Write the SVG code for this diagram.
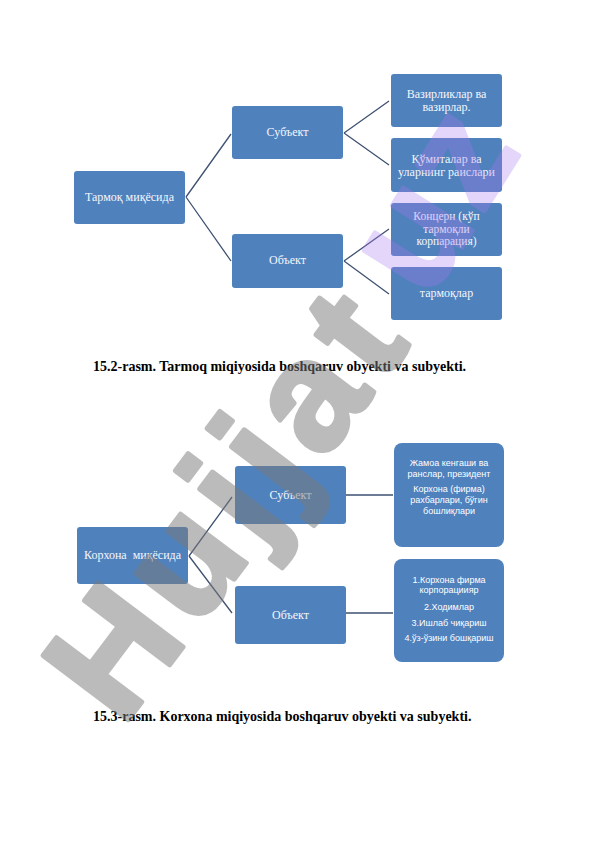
<svg xmlns="http://www.w3.org/2000/svg" width="596" height="842" viewBox="0 0 596 842">
<style>
.box{fill:#4f81bd}
.t{font-family:"Liberation Serif","Times New Roman",serif;font-size:12px;fill:#f4f7fc;text-anchor:middle}
.t2{font-family:"Liberation Serif","Times New Roman",serif;font-size:11.5px;fill:#f4f7fc;text-anchor:middle}
.s{font-family:"Liberation Sans",Arial,sans-serif;font-size:9px;fill:#ffffff;text-anchor:middle}
.cap{font-family:"Liberation Serif","Times New Roman",serif;font-size:14px;font-weight:bold;fill:#000}
.ln{stroke:#3e5272;stroke-width:1.3;fill:none}
.wm{font-family:"Liberation Sans",Arial,sans-serif;font-weight:bold;font-size:155px}
</style>
<rect width="596" height="842" fill="#ffffff"/>

<g id="connectors1">
<path class="ln" d="M186,197 L231,134 M186,197 L231,261 M344,133 L389,101 M344,133 L389,165 M344,261 L389,229 M344,261 L389,294"/>
</g>
<g id="n-tarmoq"><rect class="box" x="74" y="171" width="111" height="53" rx="3"/><text class="t" x="129.5" y="201">Тармоқ миқёсида</text></g>
<g id="n-subyekt1"><rect class="box" x="232" y="106" width="111" height="53" rx="3"/><text class="t" x="287.5" y="136">Субъект</text></g>
<g id="n-obyekt1"><rect class="box" x="232" y="234" width="111" height="54" rx="3"/><text class="t" x="287.5" y="264">Объект</text></g>
<g id="n-vazir"><rect class="box" x="391" y="74" width="111" height="53" rx="3"/><text class="t" x="446.5" y="98">Вазирликлар ва</text><text class="t" x="446.5" y="111">вазирлар.</text></g>
<g id="n-qomita"><rect class="box" x="391" y="138" width="111" height="54" rx="3"/><text class="t" x="446.5" y="163">Қўмиталар ва</text><text class="t" x="446.5" y="176">уларнинг раислари</text></g>
<g id="n-konsern"><rect class="box" x="391" y="203" width="111" height="53" rx="3"/><text class="t2" x="446.5" y="220">Концерн (кўп</text><text class="t2" x="446.5" y="232.5">тармоқли</text><text class="t2" x="446.5" y="245">корпарация)</text></g>
<g id="n-tarmoqlar"><rect class="box" x="391" y="267" width="111" height="53" rx="3"/><text class="t" x="446.5" y="297">тармоқлар</text></g>

<text class="cap" x="93" y="371">15.2-rasm. Tarmoq miqiyosida boshqaruv obyekti va subyekti.</text>

<g id="connectors2">
<path class="ln" d="M189,556 L232,497 M189,556 L232,613 M346,495 L393,495 M346,613 L393,613"/>
</g>
<g id="n-korxona"><rect class="box" x="77" y="527" width="111" height="57" rx="3"/><text class="t" x="132.5" y="559" xml:space="preserve">Корхона  миқёсида</text></g>
<g id="n-subyekt2"><rect class="box" x="235" y="466" width="111" height="58" rx="3"/><text class="t" x="290.5" y="499">Субъект</text></g>
<g id="n-obyekt2"><rect class="box" x="235" y="586" width="111" height="58" rx="3"/><text class="t" x="290.5" y="619">Объект</text></g>
<g id="n-jamoa"><rect class="box" x="394" y="443" width="110" height="104" rx="8"/>
<text class="s" x="449" y="466">Жамоа кенгаши ва</text><text class="s" x="449" y="477">ранслар, президент</text><text class="s" x="449" y="492">Корхона (фирма)</text><text class="s" x="449" y="503">рахбарлари, бўгин</text><text class="s" x="449" y="514">бошлиқлари</text></g>
<g id="n-obyektlist"><rect class="box" x="394" y="559" width="110" height="103" rx="8"/>
<text class="s" x="449" y="583">1.Корхона фирма</text><text class="s" x="449" y="593">корпорациияр</text><text class="s" x="449" y="610">2.Ходимлар</text><text class="s" x="449" y="626">3.Ишлаб чиқариш</text><text class="s" x="449" y="641">4.ўз-ўзини бошқариш</text></g>

<text class="cap" x="93" y="721">15.3-rasm. Korxona miqiyosida boshqaruv obyekti va subyekti.</text>

<g id="watermark">
<g opacity="0.5"><text class="wm" transform="translate(122,728) rotate(-53)" letter-spacing="10" fill="#7a7a7a" stroke="#7a7a7a" stroke-width="5" stroke-linejoin="round">Hujjat</text></g>
<g opacity="0.3"><text class="wm" transform="translate(428,302) rotate(-58)" letter-spacing="6" fill="#a878f0" stroke="#a878f0" stroke-width="4" stroke-linejoin="round">uz</text></g>
</g>
</svg>
